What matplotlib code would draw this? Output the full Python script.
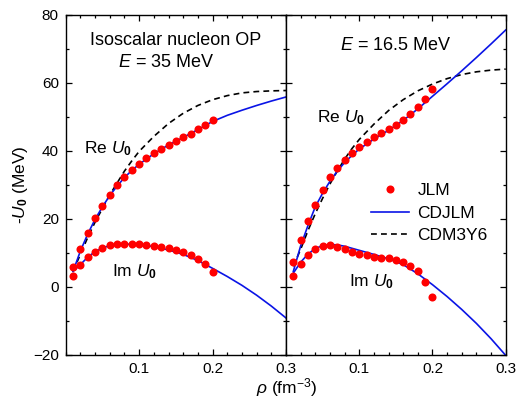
import matplotlib
matplotlib.use("Agg")
import matplotlib.pyplot as plt
from matplotlib.ticker import MultipleLocator

plt.rcParams['font.family'] = 'Liberation Sans'
plt.rcParams['mathtext.fontset'] = 'custom'
plt.rcParams['mathtext.rm'] = 'Liberation Sans'
plt.rcParams['mathtext.it'] = 'Liberation Sans:italic'
plt.rcParams['mathtext.bf'] = 'Liberation Sans:bold'

# JLM points (both energies, same densities)
rho_jlm = [0.01, 0.02, 0.03, 0.04, 0.05, 0.06, 0.07, 0.08, 0.09, 0.10,
           0.11, 0.12, 0.13, 0.14, 0.15, 0.16, 0.17, 0.18, 0.19, 0.20]

# E = 35 MeV
re_jlm_35 = [5.7, 11.1, 15.9, 20.1, 23.7, 27.1, 29.8, 32.4, 34.3, 36.2,
             37.9, 39.3, 40.5, 41.7, 42.9, 43.9, 45.0, 46.3, 47.5, 48.9]
im_jlm_35 = [3.2, 6.4, 8.6, 10.3, 11.5, 12.2, 12.5, 12.6, 12.6, 12.5,
             12.3, 12.0, 11.7, 11.3, 10.7, 10.2, 9.3, 8.1, 6.6, 4.2]

# E = 16.5 MeV
re_jlm_16 = [7.4, 13.7, 19.3, 24.1, 28.4, 32.2, 35.0, 37.3, 39.3, 41.1,
             42.6, 43.9, 45.1, 46.4, 47.6, 49.1, 50.7, 52.8, 55.1, 58.1]
im_jlm_16 = [3.1, 6.7, 9.3, 11.1, 12.0, 12.2, 11.7, 11.0, 10.3, 9.7,
             9.2, 8.8, 8.5, 8.4, 7.9, 7.4, 6.2, 4.5, 1.5, -2.9]

# curves
rho_c = [0.01, 0.02, 0.03, 0.04, 0.05, 0.06, 0.07, 0.08, 0.09, 0.10,
         0.12, 0.14, 0.16, 0.18, 0.20, 0.22, 0.24, 0.26, 0.28, 0.30]

re_cdjlm_35 = [4.5, 10.5, 15.5, 19.8, 23.5, 26.8, 29.6, 32.1, 34.2, 36.0,
               39.1, 41.7, 43.9, 46.2, 48.6, 50.4, 51.9, 53.3, 54.6, 55.8]
re_cdm3y6_35 = [4.5, 9.5, 14.5, 19.0, 23.0, 27.0, 30.5, 34.0, 37.0, 39.8,
                44.2, 48.0, 51.0, 53.3, 55.0, 56.2, 57.0, 57.4, 57.6, 57.7]
im_cdjlm_35 = [4.5, 6.5, 8.7, 10.3, 11.4, 12.1, 12.4, 12.5, 12.5, 12.4,
               11.8, 10.8, 9.5, 7.7, 5.4, 3.0, 0.4, -2.5, -5.7, -9.2]

re_cdjlm_16 = [4.5, 12.0, 18.0, 23.5, 27.5, 31.0, 34.0, 36.5, 38.6, 40.5,
               43.4, 46.0, 48.9, 52.3, 56.0, 59.7, 63.5, 67.4, 71.4, 75.5]
re_cdm3y6_16 = [6.0, 11.0, 16.5, 21.5, 26.0, 30.2, 34.0, 37.5, 40.6, 43.3,
                47.8, 51.8, 55.0, 57.6, 59.6, 61.2, 62.4, 63.2, 63.7, 64.0]
im_cdjlm_16 = [4.0, 7.2, 9.6, 11.2, 12.1, 12.4, 12.3, 11.9, 11.3, 10.7,
               9.5, 8.2, 6.5, 3.8, 0.6, -2.9, -6.7, -10.8, -15.3, -20.2]

fig = plt.figure(figsize=(5.17, 4.04), dpi=100)
bot = (404 - 354.7) / 404
hgt = 340 / 404
ax1 = fig.add_axes([65.7 / 517, bot, 220.3 / 517, hgt])
ax2 = fig.add_axes([286 / 517, bot, 219.7 / 517, hgt])

ms = 5.8
blue = '#0a14e6'
dash = (0, (3.5, 2.5))
for ax, rj, ij, rc, rd, ic in [
        (ax1, re_jlm_35, im_jlm_35, re_cdjlm_35, re_cdm3y6_35, im_cdjlm_35),
        (ax2, re_jlm_16, im_jlm_16, re_cdjlm_16, re_cdm3y6_16, im_cdjlm_16)]:
    ax.plot(rho_c, rd, color='black', ls=dash, lw=1.2, zorder=2)
    ax.plot(rho_c, rc, color=blue, lw=1.2, zorder=2)
    ax.plot(rho_c, ic, color=blue, lw=1.2, zorder=2)
    ax.plot(rho_jlm, rj, 'o', color='#ff0000', ms=ms, mec='none', zorder=3)
    ax.plot(rho_jlm, ij, 'o', color='#ff0000', ms=ms, mec='none', zorder=3)
    ax.set_xlim(0, 0.3)
    ax.set_ylim(-20, 80)
    ax.set_xticks([0.1, 0.2, 0.3])
    ax.set_xticklabels(['0.1', '0.2', '0.3'])
    ax.xaxis.set_minor_locator(MultipleLocator(0.02))
    ax.yaxis.set_major_locator(MultipleLocator(20))
    ax.yaxis.set_minor_locator(MultipleLocator(10))
    ax.tick_params(which='both', direction='in', top=True, right=True,
                   labelsize=11, width=0.9)
    ax.tick_params(which='major', length=4.5, pad=5)
    ax.tick_params(which='minor', length=2.5)
    for s in ax.spines.values():
        s.set_linewidth(1.0)

ax2.tick_params(labelleft=False)

# legend in right panel
ax2.plot([], [], 'o', color='#ff0000', ms=ms, mec='none', label='JLM')
ax2.plot([], [], color=blue, lw=1.2, label='CDJLM')
ax2.plot([], [], color='black', ls=dash, lw=1.2, label='CDM3Y6')
ax2.legend(loc='upper left', bbox_to_anchor=(0.33, 0.54), frameon=False,
           fontsize=12.5, handlelength=2.2, handletextpad=0.5,
           labelspacing=0.42, borderpad=0.2)

ax1.text(0.5, 0.925, 'Isoscalar nucleon OP', transform=ax1.transAxes,
         ha='center', va='center', fontsize=13)
ax1.text(0.455, 0.86, '$E$ = 35 MeV', transform=ax1.transAxes,
         ha='center', va='center', fontsize=13)
ax2.text(0.5, 0.91, '$E$ = 16.5 MeV', transform=ax2.transAxes,
         ha='center', va='center', fontsize=13)

ax1.text(0.025, 40.5, r'Re $U_\mathbf{0}$', fontsize=12.5, va='center')
ax1.text(0.063, 4.5, r'Im $U_\mathbf{0}$', fontsize=12.5, va='center')
ax2.text(0.043, 49.8, r'Re $U_\mathbf{0}$', fontsize=12.5, va='center')
ax2.text(0.086, 1.5, r'Im $U_\mathbf{0}$', fontsize=12.5, va='center')

fig.text(20 / 517, 1 - 185 / 404, r'-$U_\mathbf{0}$ (MeV)', rotation=90,
         ha='center', va='center', fontsize=12.5)
fig.text(287 / 517, 1 - 388 / 404, r'$\rho$ (fm$^{-3}$)',
         ha='center', va='center', fontsize=12.5)

fig.savefig('out.png', dpi=100)
